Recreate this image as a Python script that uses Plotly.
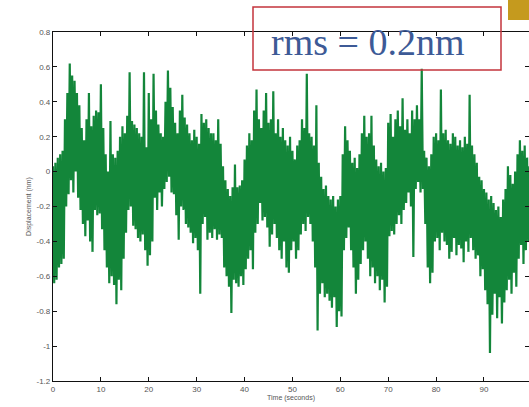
import plotly.graph_objects as go

# Sampling step of the recorded signal (seconds)
time_step = 0.25

# Displacement (nm), 4 samples per second
displacement = [
    0.03, -0.64, 0.05, -0.62,   0.08, -0.55, 0.10, -0.53,   0.12, -0.50, 0.30, -0.20,
    0.45, -0.13, 0.62, -0.05,   0.55, -0.12, 0.52, 0.00,    0.45, -0.15, 0.38, -0.22,
    0.25, -0.30, 0.18, -0.37,   0.30, -0.28, 0.45, -0.40,   0.26, -0.46, 0.32, -0.22,
    0.35, -0.25, 0.34, -0.24,   0.50, -0.33, 0.25, -0.45,   0.10, -0.55, 0.00, -0.64,
    0.29, -0.60, 0.10, -0.65,   0.08, -0.76, 0.12, -0.62,   0.20, -0.68, 0.26, -0.50,
    0.22, -0.35, 0.32, -0.22,   0.57, -0.20, 0.29, -0.31,   0.27, -0.33, 0.25, -0.38,
    0.22, -0.40, 0.20, -0.36,   0.57, -0.45, 0.14, -0.54,   0.45, -0.48, 0.30, -0.40,
    0.56, -0.15, 0.35, -0.22,   0.27, -0.12, 0.22, -0.20,   0.20, -0.10, 0.40, -0.06,
    0.58, -0.03, 0.48, -0.12,   0.37, -0.13, 0.28, -0.25,   0.22, -0.39, 0.35, -0.20,
    0.44, -0.22, 0.31, -0.30,   0.27, -0.32, 0.22, -0.35,   0.18, -0.41, 0.24, -0.38,
    0.20, -0.45, 0.16, -0.70,   0.33, -0.30, 0.28, -0.26,   0.30, -0.39, 0.25, -0.35,
    0.22, -0.38, 0.22, -0.33,   0.18, -0.39, 0.30, -0.36,   0.16, -0.38, 0.03, -0.55,
    -0.05, -0.60, -0.10, -0.66, -0.14, -0.81, -0.09, -0.62, 0.04, -0.64, -0.09, -0.66,
    -0.08, -0.60, -0.05, -0.65, 0.07, -0.56, 0.15, -0.50,   0.22, -0.45, 0.18, -0.56,
    0.35, -0.35, 0.47, -0.30,   0.30, -0.18, 0.25, -0.28,   0.35, -0.26, 0.45, -0.32,
    0.28, -0.43, 0.30, -0.36,   0.46, -0.30, 0.22, -0.38,   0.30, -0.45, 0.20, -0.50,
    0.25, -0.40, 0.18, -0.55,   0.15, -0.58, 0.20, -0.45,   0.12, -0.40, 0.07, -0.50,
    0.15, -0.45, 0.18, -0.36,   0.30, -0.30, 0.25, -0.34,   0.56, -0.26, 0.22, -0.30,
    0.20, -0.40, 0.15, -0.55,   0.38, -0.91, 0.05, -0.70,   -0.03, -0.64, -0.10, -0.72,
    -0.08, -0.70, -0.14, -0.74, -0.16, -0.78, -0.14, -0.72, -0.20, -0.89, -0.16, -0.80,
    -0.14, -0.83, 0.10, -0.45,  0.26, -0.38, 0.18, -0.32,   0.12, -0.45, 0.05, -0.55,
    0.08, -0.70, 0.02, -0.62,   0.10, -0.53, 0.22, -0.45,   0.32, -0.40, 0.20, -0.50,
    0.22, -0.60, 0.32, -0.55,   0.15, -0.64, 0.07, -0.60,   0.03, -0.68, 0.05, -0.62,
    0.00, -0.75, 0.02, -0.66,   0.28, -0.37, 0.33, -0.34,   0.20, -0.36, 0.30, -0.30,
    0.35, -0.25, 0.26, -0.30,   0.42, -0.22, 0.24, -0.18,   0.30, -0.12, 0.22, -0.20,
    0.35, -0.49, 0.30, -0.10,   0.38, -0.06, 0.30, -0.12,   0.59, -0.10, 0.12, -0.30,
    0.08, -0.55, 0.03, -0.64,   0.10, -0.58, 0.20, -0.40,   0.22, -0.38, 0.18, -0.45,
    0.47, -0.35, 0.22, -0.40,   0.24, -0.42, 0.18, -0.50,   0.16, -0.46, 0.22, -0.38,
    0.20, -0.48, 0.15, -0.42,   0.18, -0.44, 0.14, -0.52,   0.20, -0.40, 0.16, -0.46,
    0.44, -0.38, 0.15, -0.45,   0.10, -0.50, 0.05, -0.48,   -0.03, -0.60, -0.05, -0.56,
    -0.10, -0.68, -0.12, -0.76, -0.16, -1.04, -0.14, -0.82, -0.18, -0.70, -0.22, -0.84,
    -0.20, -0.72, -0.26, -0.87, -0.16, -0.75, -0.10, -0.68, 0.03, -0.62, -0.02, -0.70,
    -0.07, -0.58, 0.00, -0.66,  0.10, -0.50, 0.18, -0.42,   0.12, -0.53, 0.15, -0.45,
    0.08, -0.40, 0.03, -0.48,
]
time_s = [i * time_step for i in range(len(displacement))]

x_tick_vals = [0, 10, 20, 30, 40, 50, 60, 70, 80, 90, 100]
x_tick_text = ["0", "10", "20", "30", "40", "50", "60", "70", "80", "90", "100"]
y_tick_vals = [0.8, 0.6, 0.4, 0.2, 0, -0.2, -0.4, -0.6, -0.8, -1, -1.2]
y_tick_text = ["0.8", "0.6", "0.4", "0.2", "0", "-0.2", "-0.4", "-0.6", "-0.8", "-1", "-1.2"]

annotation_text = "rms = 0.2nm"

fig = go.Figure()
fig.add_trace(go.Scatter(
    x=time_s, y=displacement, mode="lines",
    line=dict(color="#13863a", width=2.2),
    showlegend=False, hoverinfo="skip",
))

axis_common = dict(
    showline=True, linecolor="#111", linewidth=1.2, mirror="ticks",
    ticks="inside", ticklen=4, tickcolor="#111", tickwidth=1,
    showgrid=False, zeroline=False,
    tickfont=dict(family="Liberation Sans, Arial", size=8, color="#555"),
)

fig.update_layout(
    width=529, height=407,
    margin=dict(l=53, r=0, t=32, b=26),
    paper_bgcolor="white", plot_bgcolor="white",
    xaxis=dict(range=[0, 99.4], tickvals=x_tick_vals, ticktext=x_tick_text,
               title=dict(text="Time (seconds)", standoff=2,
                          font=dict(family="Liberation Sans, Arial", size=7, color="#555")),
               **axis_common),
    yaxis=dict(range=[-1.2, 0.8], tickvals=y_tick_vals, ticktext=y_tick_text,
               title=dict(text="Displacement (nm)", standoff=4,
                          font=dict(family="Liberation Sans, Arial", size=7, color="#555")),
               **axis_common),
    shapes=[
        dict(type="rect", xref="paper", yref="paper",
             x0=(253 - 53) / 476, x1=(501 - 53) / 476,
             y0=(381 - 70) / 349, y1=(381 - 7) / 349,
             line=dict(color="#c4343c", width=1.5), fillcolor="rgba(0,0,0,0)", layer="above"),
        dict(type="rect", xref="paper", yref="paper",
             x0=(508 - 53) / 476, x1=(531 - 53) / 476,
             y0=(381 - 20) / 349, y1=(381 + 2) / 349,
             line=dict(width=0), fillcolor="#c59a1e", layer="above"),
    ],
    annotations=[
        dict(text=annotation_text, xref="paper", yref="paper",
             x=(368 - 53) / 476, y=(381 - 42) / 349,
             xanchor="center", yanchor="middle", showarrow=False,
             font=dict(family="Liberation Serif, Times New Roman", size=38, color="#3d5a96")),
    ],
)

fig.write_html("out.html", config={"displayModeBar": False},
               post_script="document.body.style.margin='0';document.body.style.overflow='hidden';")
